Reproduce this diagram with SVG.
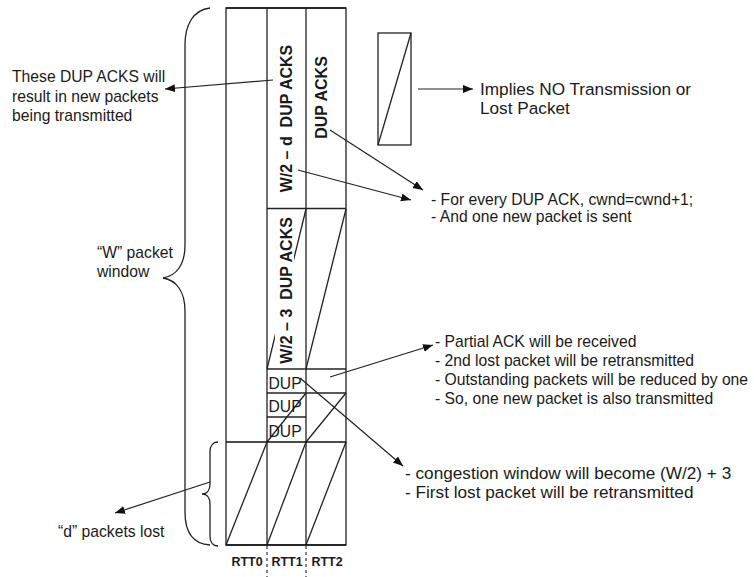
<svg xmlns="http://www.w3.org/2000/svg" width="754" height="577" viewBox="0 0 754 577">
<style>
.ln{stroke:#222;stroke-width:1.3;fill:none}
.bd{stroke:#111;stroke-width:1.6;fill:none}
.t{font-family:"Liberation Sans",Arial,sans-serif;font-size:15.7px;fill:#1a1a1a}
.tl{font-size:17.2px}
.rt{font-family:"Liberation Sans",Arial,sans-serif;font-size:16px;font-weight:bold;fill:#1a1a1a;white-space:pre}
.rtt{font-family:"Liberation Sans",Arial,sans-serif;font-size:12.5px;font-weight:bold;fill:#1a1a1a}
.ar{stroke:#222;stroke-width:1.2;fill:none;marker-end:url(#ah)}
.dash{stroke:#333;stroke-width:1.2;stroke-dasharray:3 3;fill:none}
</style>
<defs>
<marker id="ah" markerUnits="userSpaceOnUse" markerWidth="12" markerHeight="10" refX="10" refY="4" orient="auto">
<path d="M0,0 L10,4 L0,8 Z" fill="#111"/>
</marker>
</defs>
<rect width="754" height="577" fill="#fff"/>

<g id="grid">
<line class="ln" x1="226" y1="545" x2="267" y2="442"/>
<line class="ln" x1="267" y1="545" x2="306" y2="442"/>
<line class="ln" x1="306" y1="545" x2="346" y2="442"/>
<line class="ln" x1="267" y1="442" x2="306" y2="393"/>
<line class="ln" x1="306" y1="442" x2="346" y2="393"/>
<line class="ln" x1="306" y1="369" x2="346" y2="209"/>
<line class="ln" x1="306" y1="209" x2="267" y2="369"/>
<rect class="ln" x="226" y="8" width="120" height="537"/>
<line class="bd" x1="226" y1="8" x2="346" y2="8"/>
<line class="ln" x1="267" y1="8" x2="267" y2="545"/>
<line class="ln" x1="306" y1="8" x2="306" y2="545"/>
<line class="ln" x1="267" y1="208.5" x2="346" y2="208.5"/>
<line class="ln" x1="267" y1="369" x2="346" y2="369"/>
<line class="ln" x1="267" y1="393" x2="346" y2="393"/>
<line class="ln" x1="267" y1="417" x2="306" y2="417"/>
<line class="bd" x1="226" y1="442" x2="346" y2="442"/>
<line class="bd" x1="226" y1="545" x2="346" y2="545"/>
</g>

<g id="cell-w2d">
<text class="rt" xml:space="preserve" transform="translate(292,118.5) rotate(-90)" text-anchor="middle">W/2 – d  DUP ACKS</text>
</g>
<g id="cell-dupacks">
<text class="rt" transform="translate(327,97.5) rotate(-90)" text-anchor="middle">DUP ACKS</text>
</g>
<g id="cell-w23">
<rect x="275" y="215" width="19" height="151" fill="#fff"/>
<text class="rt" xml:space="preserve" transform="translate(292,290.5) rotate(-90)" text-anchor="middle">W/2 – 3  DUP ACKS</text>
</g>
<g id="dup1"><text class="t" x="268.5" y="389" font-size="16">DUP</text></g>
<g id="dup2"><text class="t" x="268.5" y="412" font-size="16">DUP</text></g>
<g id="dup3"><text class="t" x="268.5" y="437" font-size="16">DUP</text></g>

<g id="rtt-axis">
<line class="dash" x1="267" y1="546" x2="267" y2="577"/>
<line class="dash" x1="306" y1="546" x2="306" y2="577"/>
<text class="rtt" x="247" y="566" text-anchor="middle">RTT0</text>
<text class="rtt" x="287" y="566" text-anchor="middle">RTT1</text>
<text class="rtt" x="327" y="566" text-anchor="middle">RTT2</text>
</g>

<g id="braces">
<path class="ln" d="M210,8 C193,10 185,25 185,45 L185,245 C185,265 176,276 163,278 C176,280 185,291 185,311 L185,512 C185,532 193,544 210,545"/>
<path class="ln" d="M218,442 C213,442 210,446 210,452 L210,484 C210,490 207,494 202,494 C207,494 210,498 210,504 L210,536 C210,542 213,546 218,546"/>
</g>

<g id="legend">
<rect class="ln" x="378" y="33" width="33" height="112"/>
<line class="ln" x1="378" y1="145" x2="411" y2="33"/>
<text class="t tl" x="480" y="95">Implies NO Transmission or</text>
<text class="t tl" x="480" y="114">Lost Packet</text>
</g>

<g id="label-these">
<text class="t" x="12" y="82">These DUP ACKS will</text>
<text class="t" x="12" y="101.5">result in new packets</text>
<text class="t" x="12" y="120.5">being transmitted</text>
</g>
<g id="label-window">
<text class="t" x="97" y="258">“W” packet</text>
<text class="t" x="97" y="277">window</text>
</g>
<g id="label-lost">
<text class="t" x="58" y="537">“d” packets lost</text>
</g>
<g id="label-cwnd">
<text class="t" x="431" y="205">- For every DUP ACK, cwnd=cwnd+1;</text>
<text class="t" x="431" y="222">- And one new packet is sent</text>
</g>
<g id="label-partial">
<text class="t" x="435" y="346.5">- Partial ACK will be received</text>
<text class="t" x="435" y="365.5">- 2nd lost packet will be retransmitted</text>
<text class="t" x="435" y="384.5">- Outstanding packets will be reduced by one</text>
<text class="t" x="435" y="403.5">- So, one new packet is also transmitted</text>
</g>
<g id="label-congestion">
<text class="t tl" x="405" y="479">- congestion window will become (W/2) + 3</text>
<text class="t tl" x="405" y="498">- First lost packet will be retransmitted</text>
</g>

<g id="connectors">
<line class="ar" x1="418" y1="89" x2="473" y2="89"/>
<line class="ar" x1="273" y1="80" x2="165" y2="89"/>
<line class="ar" x1="330" y1="130" x2="423" y2="190"/>
<line class="ar" x1="298" y1="170" x2="411" y2="200"/>
<line class="ar" x1="330" y1="377" x2="433" y2="345"/>
<line class="ar" x1="300" y1="378" x2="403" y2="466"/>
<line class="ar" x1="210" y1="482" x2="115" y2="513"/>
</g>
</svg>
